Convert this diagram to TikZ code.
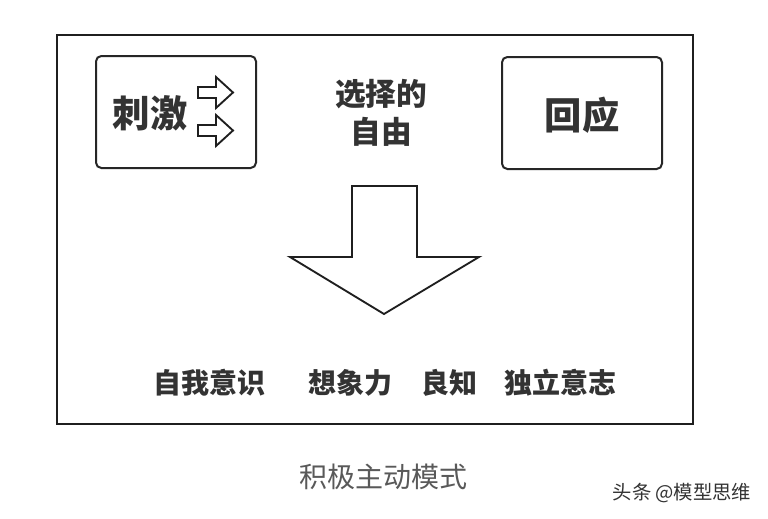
\documentclass[tikz,border=0pt]{standalone}
\usepackage{fontspec}
\newfontfamily\cjk{Noto Sans CJK SC}
\begin{document}
\begin{tikzpicture}[x=0.75pt,y=-0.75pt,
  frame/.style={draw=black!88,line width=1.6pt},
  rbox/.style={draw=black!85,line width=1.5pt,rounded corners=4pt},
  shapeline/.style={draw=black!88,line width=1.4pt,line join=miter},
  big/.style={font=\cjk\bfseries\fontsize{28}{30}\selectfont,text=black!80,inner sep=0pt},
  mid/.style={font=\cjk\bfseries\fontsize{23}{29}\selectfont,text=black!80,inner sep=0pt,align=center},
  lab/.style={font=\cjk\bfseries\fontsize{21}{24}\selectfont,text=black!80,inner sep=0pt},
  captext/.style={font=\cjk\fontsize{21}{24}\selectfont,text=black!65,inner sep=0pt},
  wm/.style={font=\cjk\fontsize{14.5}{17}\selectfont,text=black!80,inner sep=0pt}]
\useasboundingbox (0,0) rectangle (768,518);
\fill[white] (0,0) rectangle (768,518);
% outer frame
\draw[frame] (57,35) rectangle (693,424);
% stimulus box
\draw[rbox] (96,56) rectangle (256,168);
\node[big] (stim) at (150,113) {刺激};
\draw[shapeline] (198,87) -- (216,87) -- (216,77) -- (233,92.5) -- (216,108) -- (216,98) -- (198,98) -- cycle;
\draw[shapeline] (198,125) -- (216,125) -- (216,115) -- (233,130.5) -- (216,146) -- (216,136) -- (198,136) -- cycle;
% response box
\draw[rbox] (502,57) rectangle (662,169);
\node[big] (resp) at (582,115) {回应};
% freedom of choice
\node[mid] (free) at (381,113) {选择的\\自由};
% big arrow
\draw[shapeline] (352,186) -- (417,186) -- (417,257) -- (479,257) -- (384,314) -- (290,257) -- (352,257) -- cycle;
% bottom labels
\node[lab] (l1) at (209,383) {自我意识};
\node[lab] (l2) at (350,383) {想象力};
\node[lab] (l3) at (449,383) {良知};
\node[lab] (l4) at (560,383) {独立意志};
% caption
\node[captext] (capt) at (383,477) {积极主动模式};
\node[wm] (wm) at (682,493) {头条 @模型思维};
\end{tikzpicture}
\end{document}
